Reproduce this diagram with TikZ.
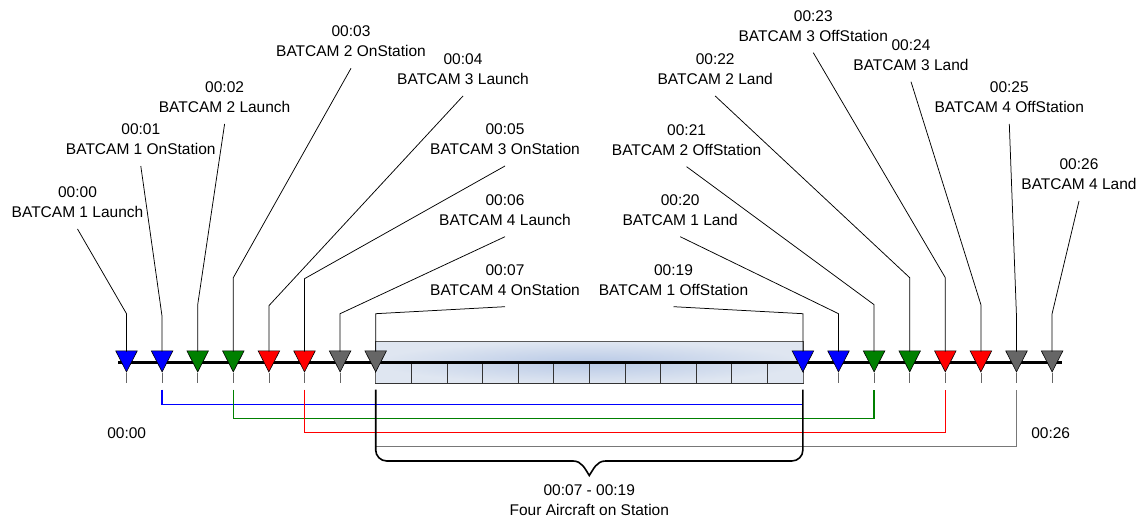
\documentclass[tikz,border=0pt]{standalone}
\usepackage{fontspec}
\setmainfont{Liberation Sans}
\usetikzlibrary{shapes.geometric}

\definecolor{batblue}{RGB}{0,0,255}
\definecolor{batgreen}{RGB}{0,128,0}
\definecolor{batred}{RGB}{255,0,0}
\definecolor{batgray}{RGB}{102,102,102}
\definecolor{linkgray}{RGB}{120,120,120}
\definecolor{boxedge}{RGB}{223,230,241}
\definecolor{boxmid}{RGB}{184,201,230}

\tikzset{
    lbl/.style={align=center, font=\fontsize{15.5}{20}\selectfont, inner xsep=1pt, inner ysep=11pt, anchor=south},
    note/.style={align=center, font=\fontsize{15.5}{20}\selectfont, inner sep=0pt},
    lead/.style={draw=black, line width=0.75pt},
    marker/.style={isosceles triangle, isosceles triangle stretches, shape border rotate=-90,
        minimum width=21.5pt, minimum height=21pt, inner sep=0pt, draw=black, line width=0.6pt, anchor=apex},
    tick/.style={draw=batgray, line width=0.8pt},
    link/.style={line width=1.4pt},
    cell/.style={draw=black!80, line width=0.8pt},
    brace/.style={draw=black, line width=1.6pt}
}

\begin{document}
\begin{tikzpicture}[x=1pt, y=1pt]
    \useasboundingbox (0,0) rectangle (1141,519);

    % time span box
    \shade[inner color=boxmid, outer color=boxedge] (375.7,135.7) rectangle (802.9,177.3);
    \draw[draw=black!65, line width=0.8pt] (375.7,157) rectangle (802.9,177.3);
    \foreach \t in {7,...,18}
        \draw[cell] ({126.5+35.6*\t},135.7) rectangle ++(35.6,21.3);

    % axis
    \coordinate (axl) at (118,156.7);
    \coordinate (axr) at (1062,156.7);
    \draw[line width=2.6pt] (axl) -- (axr);

    \foreach \t/\c in {0/batblue,1/batblue,2/batgreen,3/batgreen,4/batred,5/batred,6/batgray,7/batgray,
        19/batblue,20/batblue,21/batgreen,22/batgreen,23/batred,24/batred,25/batgray,26/batgray}
    {
        \node[marker, fill=\c] (t\t) at ({126.5+35.6*\t},146.3) {};
        \draw[tick] (t\t.apex) -- ++(0,-10.6);
    }

    % event labels
    \foreach \t/\lx/\ly/\up/\txt in {
        0/77.5/290/59/{00:00\\BATCAM 1 Launch},
        1/140.8/353/56/{00:01\\BATCAM 1 OnStation},
        2/224.6/395/68/{00:02\\BATCAM 2 Launch},
        3/351/450.7/95/{00:03\\BATCAM 2 OnStation},
        4/463/423/67/{00:04\\BATCAM 3 Launch},
        5/505/353/94/{00:05\\BATCAM 3 OnStation},
        6/505/282.3/59/{00:06\\BATCAM 4 Launch},
        7/505/212.3/59/{00:07\\BATCAM 4 OnStation},
        19/673.5/212.3/59/{00:19\\BATCAM 1 OffStation},
        20/680.2/282.3/59/{00:20\\BATCAM 1 Land},
        21/686.6/352.3/68/{00:21\\BATCAM 2 OffStation},
        22/715.2/423/95/{00:22\\BATCAM 2 Land},
        23/813.3/466.3/95/{00:23\\BATCAM 3 OffStation},
        24/911/437.3/68/{00:24\\BATCAM 3 Land},
        25/1009.3/395/56/{00:25\\BATCAM 4 OffStation},
        26/1079/318/59/{00:26\\BATCAM 4 Land}}
    {
        \node[lbl] (l\t) at (\lx,\ly) {\txt};
        \draw[lead] (l\t.south) -- ([yshift=\up pt]t\t.apex) -- ([yshift=21pt]t\t.apex);
    }

    % on station links
    \draw[link, batblue] ([yshift=-17pt]t1.apex) |- ([yshift=-32pt]t19.apex);
    \draw[link, batgreen] ([yshift=-17pt]t3.apex) |- ([yshift=-46pt]t21.apex) -- ([yshift=-17pt]t21.apex);
    \draw[link, batred] ([yshift=-17pt]t5.apex) |- ([yshift=-60pt]t23.apex) -- ([yshift=-17pt]t23.apex);
    \draw[link, linkgray] ([yshift=-17pt]t7.apex) |- ([yshift=-74pt]t25.apex) -- ([yshift=-17pt]t25.apex);

    % brace
    \coordinate (tip) at (589.3,43.5);
    \draw[brace] ([yshift=-17pt]t7.apex) -- (375.7,69) arc[start angle=180, end angle=270, radius=11]
        -- (573,58) .. controls (582,58) and (585,50) .. (tip)
        .. controls (593.6,50) and (596.6,58) .. (605.6,58)
        -- (791.9,58) arc[start angle=270, end angle=360, radius=11] -- ([yshift=-17pt]t19.apex);

    \node[note] (span) at (589.3,19.2) {00:07 - 00:19\\Four Aircraft on Station};
    \node[note] (start) at (126.7,86.3) {00:00};
    \node[note] (end) at (1050.7,86.3) {00:26};
\end{tikzpicture}
\end{document}
